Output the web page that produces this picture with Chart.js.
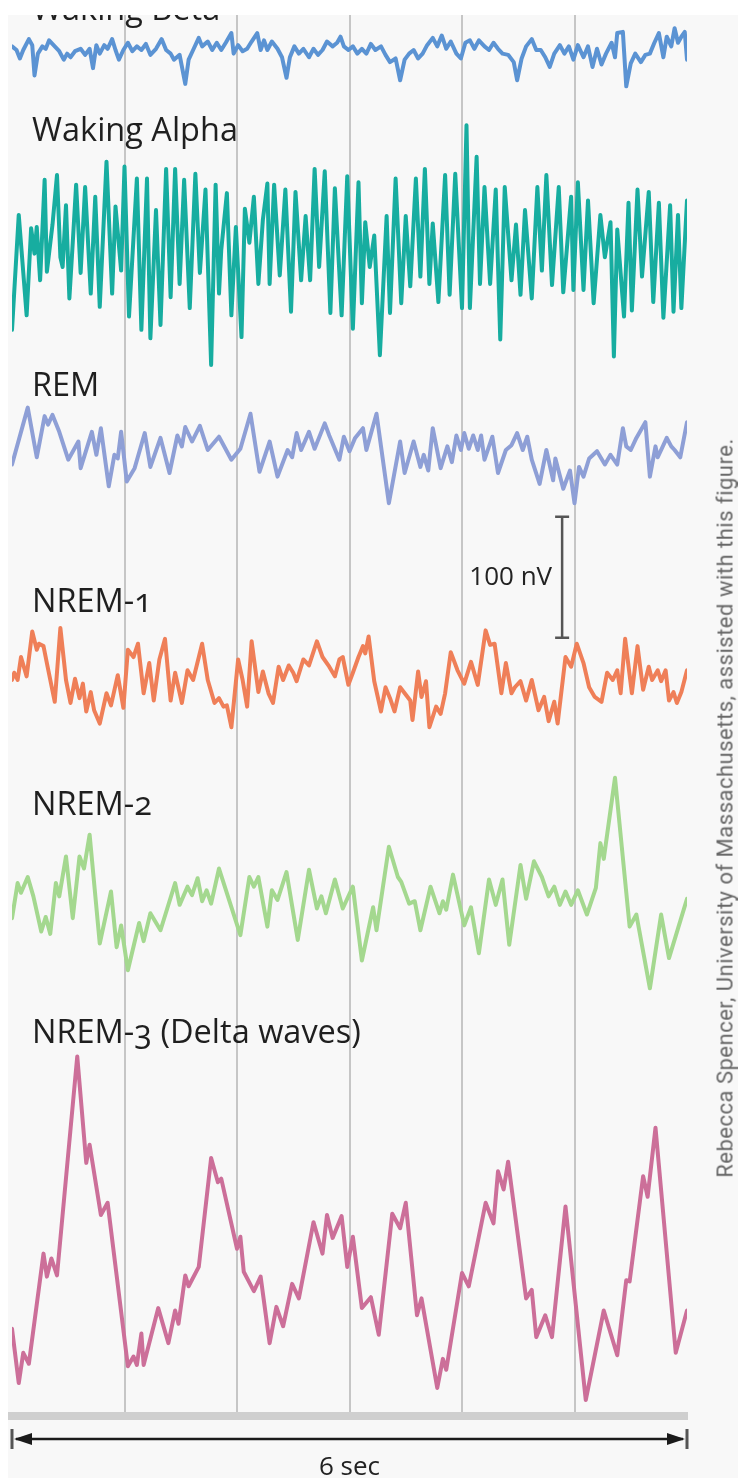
<!DOCTYPE html>
<html lang="en">
<head>
  <meta charset="UTF-8">
  <title>EEG traces by sleep stage</title>
  <script src="https://cdn.jsdelivr.net/npm/chart.js"></script>
  <style>
    html, body { margin: 0; padding: 0; background: #fff; }
    #wrap { position: relative; width: 738px; height: 1478px; overflow: hidden; }
    #panel { position: absolute; left: 8px; top: 15px; right: 0; bottom: 0; background: #f8f8f8; }
    #eeg { position: absolute; left: 0; top: 0; }
    .stage {
      position: absolute; left: 32px;
      font-family: "Open Sans", sans-serif; font-size: 32.5px; line-height: 32.5px;
      color: #1f1f1f; white-space: nowrap;
      font-variant-numeric: oldstyle-nums;
    }
    #topStrip { position: absolute; left: 0; top: 0; width: 738px; height: 15px; background: #fff; }
    #credit {
      position: absolute; left: 725px; top: 808px;
      transform: translate(-50%, -50%) rotate(-90deg);
      font-family: Roboto, sans-serif; font-size: 22px; letter-spacing: 0.5px;
      color: #676767; white-space: nowrap;
    }
  </style>
</head>
<body>
<div id="wrap">
  <div id="panel"></div>
  <canvas id="eeg" width="738" height="1478"></canvas>
  <div id="labels"></div>
  <div id="topStrip"></div>
  <div id="credit">Rebecca Spencer, University of Massachusetts, assisted with this figure.</div>
</div>

<script>
  // traces: [time in s, amplitude in nV]
  const betaWave = [[0.00,3],[0.04,0],[0.07,-7],[0.10,0],[0.15,9],[0.18,4],[0.20,-21],[0.23,-3],[0.27,3],[0.30,1],
    [0.33,8],[0.38,3],[0.42,-1],[0.46,-8],[0.49,-3],[0.52,-6],[0.56,-1],[0.61,1],[0.65,-4],[0.69,1],
    [0.72,-15],[0.75,4],[0.78,-3],[0.82,4],[0.85,1],[0.89,9],[0.92,0],[0.95,-8],[0.99,0],[1.03,6],
    [1.07,-1],[1.11,3],[1.15,0],[1.19,5],[1.23,-4],[1.28,1],[1.33,9],[1.37,0],[1.41,-3],[1.44,-8],
    [1.49,-4],[1.54,-28],[1.57,-8],[1.61,0],[1.66,10],[1.69,3],[1.74,7],[1.78,0],[1.82,6],[1.86,0],
    [1.90,6],[1.95,14],[1.97,-3],[2.01,4],[2.05,-1],[2.09,1],[2.13,7],[2.18,14],[2.21,0],[2.24,8],
    [2.27,0],[2.31,7],[2.36,1],[2.40,-6],[2.44,-23],[2.47,-6],[2.51,3],[2.55,-3],[2.59,1],[2.64,-6],
    [2.68,1],[2.72,-4],[2.76,0],[2.80,7],[2.85,3],[2.89,6],[2.92,11],[2.95,3],[2.99,0],[3.03,3],
    [3.07,-3],[3.11,1],[3.15,-3],[3.19,5],[3.23,0],[3.28,3],[3.32,-4],[3.36,-10],[3.41,-7],[3.45,-25],
    [3.49,-8],[3.53,-3],[3.57,0],[3.61,-7],[3.65,-3],[3.69,4],[3.74,10],[3.78,3],[3.82,12],[3.86,1],
    [3.90,7],[3.95,-3],[3.99,-7],[4.03,6],[4.07,8],[4.11,1],[4.15,8],[4.20,3],[4.24,0],[4.28,6],
    [4.32,1],[4.36,-3],[4.41,-4],[4.46,-10],[4.49,-25],[4.53,-7],[4.57,3],[4.62,9],[4.66,0],[4.70,0],
    [4.74,-6],[4.78,-14],[4.82,-3],[4.87,4],[4.91,-3],[4.95,3],[4.99,-8],[5.03,4],[5.08,-6],[5.12,3],
    [5.16,-14],[5.20,1],[5.24,-12],[5.28,-3],[5.33,6],[5.36,-6],[5.38,14],[5.43,15],[5.46,-30],[5.50,-11],
    [5.54,-3],[5.59,-10],[5.63,-4],[5.67,-3],[5.71,6],[5.75,14],[5.79,-6],[5.82,11],[5.86,3],[5.89,18],
    [5.92,6],[5.95,11],[5.98,15],[6.00,-8]];

  const alphaWave = [[0.00,-66],[0.06,29],[0.13,-54],[0.17,18],[0.20,-3],[0.22,19],[0.25,-25],[0.29,58],[0.31,-18],[0.36,21],
    [0.40,62],[0.43,-6],[0.45,-14],[0.48,37],[0.51,-40],[0.54,6],[0.57,54],[0.61,-19],[0.65,52],[0.70,-36],
    [0.74,44],[0.78,-47],[0.84,73],[0.89,-36],[0.92,36],[0.97,-17],[1.00,69],[1.04,-55],[1.11,59],[1.15,-66],
    [1.20,59],[1.23,-73],[1.28,33],[1.32,-62],[1.37,67],[1.41,-39],[1.45,67],[1.49,-28],[1.53,58],[1.58,-48],
    [1.63,63],[1.67,-19],[1.72,50],[1.77,-95],[1.81,54],[1.84,-36],[1.86,0],[1.91,47],[1.95,-54],[1.99,19],
    [2.04,-72],[2.07,34],[2.11,6],[2.15,44],[2.19,-28],[2.23,25],[2.27,55],[2.29,-28],[2.33,54],[2.38,-21],
    [2.43,50],[2.48,-51],[2.52,48],[2.57,-25],[2.61,28],[2.65,-25],[2.69,67],[2.73,-14],[2.78,65],[2.83,-52],
    [2.87,51],[2.93,-54],[2.98,61],[3.03,-65],[3.08,56],[3.11,-44],[3.14,23],[3.18,-14],[3.22,12],[3.27,-87],
    [3.33,28],[3.36,-52],[3.41,59],[3.46,-44],[3.50,28],[3.54,-30],[3.59,59],[3.63,-22],[3.67,67],[3.71,-28],
    [3.74,22],[3.79,-43],[3.85,62],[3.89,-37],[3.94,63],[4.00,-48],[4.04,103],[4.07,-48],[4.13,77],[4.16,-28],
    [4.20,52],[4.25,-28],[4.30,50],[4.34,-74],[4.38,52],[4.44,-25],[4.48,21],[4.52,-37],[4.56,33],[4.62,-40],
    [4.67,52],[4.71,-17],[4.75,62],[4.80,-29],[4.86,52],[4.90,-35],[4.97,44],[4.99,-33],[5.03,56],[5.08,-33],
    [5.12,41],[5.17,-44],[5.23,29],[5.27,-6],[5.32,23],[5.35,-88],[5.38,17],[5.44,-55],[5.48,39],[5.51,-50],
    [5.56,50],[5.60,-22],[5.66,48],[5.70,-43],[5.75,39],[5.79,-56],[5.85,37],[5.88,-51],[5.92,29],[5.95,-48],
    [6.00,41]];

  const remWave = [[0.00,-12],[0.14,35],[0.22,-6],[0.29,28],[0.32,21],[0.36,29],[0.42,15],[0.50,-8],[0.59,7],[0.61,-15],
    [0.71,15],[0.75,-4],[0.79,18],[0.86,-30],[0.91,-4],[0.94,-7],[0.97,15],[1.02,-26],[1.09,-15],[1.18,14],
    [1.23,-14],[1.32,10],[1.40,-19],[1.47,12],[1.51,3],[1.54,19],[1.60,7],[1.67,20],[1.74,0],[1.84,11],
    [1.95,-8],[2.03,1],[2.12,30],[2.20,-18],[2.29,7],[2.36,-22],[2.45,0],[2.49,-6],[2.53,14],[2.57,0],
    [2.64,15],[2.69,1],[2.78,22],[2.82,12],[2.91,-8],[2.95,11],[3.00,-1],[3.05,10],[3.12,18],[3.15,0],
    [3.24,30],[3.35,-44],[3.45,7],[3.49,-19],[3.57,7],[3.63,-14],[3.66,-4],[3.70,-17],[3.74,18],[3.81,-15],
    [3.87,3],[3.91,-10],[3.95,12],[3.99,0],[4.02,14],[4.06,1],[4.10,12],[4.14,0],[4.17,12],[4.20,-8],
    [4.27,11],[4.32,-19],[4.39,0],[4.44,4],[4.49,14],[4.54,0],[4.58,11],[4.62,-8],[4.69,-28],[4.75,0],
    [4.81,-25],[4.83,-7],[4.90,-32],[4.96,-17],[5.00,-44],[5.04,-14],[5.08,-22],[5.13,-7],[5.20,-1],[5.27,-12],
    [5.32,-4],[5.38,-12],[5.43,18],[5.46,3],[5.50,0],[5.55,10],[5.63,23],[5.67,-22],[5.72,3],[5.74,-6],
    [5.82,10],[5.86,3],[5.89,0],[5.94,-6],[6.00,23]];

  const nrem1Wave = [[0.00,0],[0.02,6],[0.05,0],[0.08,19],[0.13,3],[0.18,40],[0.22,25],[0.24,30],[0.28,28],[0.31,14],
    [0.38,-18],[0.43,43],[0.48,0],[0.52,-19],[0.56,1],[0.60,-15],[0.63,-3],[0.66,-26],[0.70,-10],[0.73,-25],
    [0.78,-36],[0.84,-11],[0.88,-21],[0.94,4],[0.99,-23],[1.03,25],[1.08,19],[1.12,30],[1.17,-11],[1.22,14],
    [1.26,-17],[1.31,17],[1.36,34],[1.41,-17],[1.45,6],[1.51,-19],[1.56,8],[1.61,0],[1.69,30],[1.74,0],
    [1.80,-19],[1.84,-15],[1.88,-22],[1.91,-21],[1.95,-39],[2.01,17],[2.05,0],[2.09,-22],[2.13,32],[2.19,-10],
    [2.23,7],[2.28,-11],[2.32,-19],[2.37,11],[2.41,0],[2.46,12],[2.50,6],[2.53,-1],[2.59,17],[2.64,12],
    [2.71,32],[2.76,19],[2.82,11],[2.87,3],[2.91,17],[2.94,19],[2.99,-4],[3.03,6],[3.08,19],[3.12,28],
    [3.14,22],[3.17,36],[3.22,-1],[3.28,-26],[3.32,-6],[3.36,-15],[3.40,-26],[3.45,-6],[3.54,-17],[3.56,-33],
    [3.61,7],[3.64,-14],[3.68,-1],[3.71,-39],[3.77,-22],[3.81,-28],[3.85,-11],[3.90,23],[3.96,8],[4.02,-3],
    [4.08,15],[4.14,-4],[4.21,41],[4.25,29],[4.29,30],[4.35,-11],[4.39,14],[4.44,-11],[4.47,-6],[4.52,-1],
    [4.57,-17],[4.62,0],[4.68,-25],[4.73,-14],[4.77,-34],[4.82,-18],[4.85,-36],[4.92,19],[4.97,11],[5.02,30],
    [5.08,14],[5.13,-6],[5.18,-14],[5.24,-18],[5.29,6],[5.34,0],[5.38,8],[5.41,-11],[5.45,34],[5.51,-11],
    [5.56,28],[5.61,-8],[5.66,11],[5.69,0],[5.74,8],[5.77,-1],[5.81,8],[5.84,-17],[5.88,-10],[5.91,-19],
    [5.95,-10],[6.00,8]];

  const nrem2Wave = [[0.00,-15],[0.05,14],[0.08,6],[0.14,19],[0.19,3],[0.26,-26],[0.30,-14],[0.34,-28],[0.39,14],[0.42,3],
    [0.48,36],[0.54,-15],[0.60,36],[0.64,26],[0.69,54],[0.78,-36],[0.88,7],[0.93,-39],[0.97,-21],[1.03,-58],
    [1.13,-19],[1.17,-34],[1.23,-11],[1.32,-25],[1.45,14],[1.49,-4],[1.56,11],[1.60,4],[1.65,18],[1.69,-1],
    [1.73,8],[1.77,-3],[1.84,26],[2.03,-29],[2.11,19],[2.15,11],[2.19,19],[2.27,-22],[2.31,8],[2.36,0],
    [2.44,23],[2.54,-33],[2.64,25],[2.71,-7],[2.75,3],[2.79,-11],[2.87,17],[2.94,-7],[3.03,11],[3.11,-50],
    [3.21,-6],[3.24,-25],[3.35,44],[3.43,19],[3.46,15],[3.53,-3],[3.58,-1],[3.63,-25],[3.72,11],[3.80,-11],
    [3.83,-1],[3.86,-8],[3.92,21],[4.02,-21],[4.08,-6],[4.15,-44],[4.24,17],[4.30,-4],[4.36,17],[4.42,-37],
    [4.52,29],[4.57,1],[4.64,32],[4.71,19],[4.77,3],[4.82,11],[4.87,-4],[4.92,7],[4.97,-4],[5.03,8],
    [5.11,-12],[5.19,10],[5.23,47],[5.26,34],[5.36,101],[5.49,-22],[5.55,-12],[5.67,-73],[5.77,-12],[5.84,-48],
    [6.00,1]];

  const nrem3Wave = [[0.00,-65],[0.06,-110],[0.10,-85],[0.15,-94],[0.28,-3],[0.31,-22],[0.35,-7],[0.40,-21],[0.58,160],[0.66,72],
    [0.69,87],[0.79,29],[0.85,39],[1.03,-96],[1.08,-88],[1.11,-95],[1.15,-69],[1.17,-95],[1.30,-48],[1.39,-77],
    [1.45,-50],[1.48,-61],[1.54,-21],[1.57,-30],[1.66,-14],[1.77,76],[1.83,56],[1.86,59],[2.00,1],[2.03,11],
    [2.06,-18],[2.15,-34],[2.21,-22],[2.29,-77],[2.35,-47],[2.41,-63],[2.49,-28],[2.55,-40],[2.68,23],[2.76,-3],
    [2.80,29],[2.85,10],[2.93,28],[2.98,-14],[3.03,11],[3.11,-48],[3.19,-39],[3.26,-70],[3.38,30],[3.45,18],
    [3.50,39],[3.60,-54],[3.64,-40],[3.78,-114],[3.83,-90],[3.86,-99],[4.00,-19],[4.06,-30],[4.21,39],[4.28,22],
    [4.32,65],[4.37,50],[4.41,73],[4.57,-40],[4.62,-33],[4.66,-72],[4.74,-54],[4.80,-72],[4.92,36],[5.10,-124],
    [5.26,-50],[5.38,-87],[5.46,-25],[5.49,-26],[5.61,61],[5.65,44],[5.72,101],[5.90,-85],[6.00,-50]];

  const stageNames = ['Waking Beta', 'Waking Alpha', 'REM', 'NREM-1', 'NREM-2', 'NREM-3 (Delta waves)'];
  const stageWaves = [betaWave, alphaWave, remWave, nrem1Wave, nrem2Wave, nrem3Wave];
  const stageColors = ['#5b93d3', '#17ada0', '#8e9fd6', '#ef7f58', '#a4d88f', '#cc6f99'];
  const epochSeconds = 6;

  // layout (px): where each trace's zero line sits, and each name's baseline
  const area = { left: 12, right: 687, top: 15, bottom: 1416 };
  const zeroLine = [50, 250, 450, 680, 900, 1250];
  const labelBaseline = [21, 142, 397, 613, 816, 1044];
  const pxPerNv = 1.21;

  // names
  const labelBox = document.getElementById('labels');
  stageNames.forEach((name, i) => {
    const d = document.createElement('div');
    d.className = 'stage';
    d.textContent = name;
    d.style.top = (labelBaseline[i] - 29) + 'px';
    labelBox.appendChild(d);
  });

  const scales = {
    x: {
      type: 'linear', min: 0, max: epochSeconds,
      ticks: { display: false, stepSize: 1 },
      grid: {
        drawTicks: false, lineWidth: 2,
        color: c => (c.tick && (c.tick.value === 0 || c.tick.value === epochSeconds)) ? 'rgba(0,0,0,0)' : '#c6c6c6'
      },
      border: { display: true, color: '#cfcfcf', width: 8 }
    }
  };
  zeroLine.forEach((z, i) => {
    scales['y' + i] = {
      type: 'linear', display: false,
      max: (z - area.top) / pxPerNv,
      min: -(area.bottom - z) / pxPerNv
    };
  });

  const extras = {
    id: 'extras',
    afterDraw(chart) {
      const ctx = chart.ctx;
      const x = chart.scales.x;
      const y1 = chart.scales.y3;
      ctx.save();

      // 100 nV scale bar
      const bx = x.getPixelForValue(4.89);
      const bTop = y1.getPixelForValue(135), bBot = y1.getPixelForValue(35);
      ctx.strokeStyle = '#555';
      ctx.lineWidth = 2.5;
      ctx.beginPath();
      ctx.moveTo(bx, bTop); ctx.lineTo(bx, bBot);
      ctx.moveTo(bx - 7, bTop); ctx.lineTo(bx + 7, bTop);
      ctx.moveTo(bx - 7, bBot); ctx.lineTo(bx + 7, bBot);
      ctx.stroke();
      ctx.fillStyle = '#222';
      ctx.font = '26px "Open Sans"';
      ctx.textAlign = 'right';
      ctx.textBaseline = 'middle';
      ctx.fillText('100 nV', bx - 10, (bTop + bBot) / 2);

      // 6 sec arrow
      const ay = chart.chartArea.bottom + 23;
      const x0 = x.getPixelForValue(0), x6 = x.getPixelForValue(epochSeconds);
      ctx.strokeStyle = '#555';
      ctx.lineWidth = 3;
      ctx.beginPath();
      ctx.moveTo(x0, ay - 10); ctx.lineTo(x0, ay + 10);
      ctx.moveTo(x6, ay - 10); ctx.lineTo(x6, ay + 10);
      ctx.stroke();
      ctx.strokeStyle = '#1b1b1b';
      ctx.lineWidth = 2.5;
      ctx.beginPath();
      ctx.moveTo(x0 + 4, ay); ctx.lineTo(x6 - 4, ay);
      ctx.stroke();
      ctx.fillStyle = '#1b1b1b';
      ctx.beginPath();
      ctx.moveTo(x0 + 2, ay); ctx.lineTo(x0 + 20, ay - 6); ctx.lineTo(x0 + 20, ay + 6); ctx.closePath();
      ctx.moveTo(x6 - 2, ay); ctx.lineTo(x6 - 20, ay - 6); ctx.lineTo(x6 - 20, ay + 6); ctx.closePath();
      ctx.fill();

      ctx.fillStyle = '#222';
      ctx.textAlign = 'center';
      ctx.textBaseline = 'alphabetic';
      ctx.fillText('6 sec', x.getPixelForValue(epochSeconds / 2), ay + 36);
      ctx.restore();
    }
  };

  new Chart(document.getElementById('eeg'), {
    type: 'line',
    data: {
      datasets: stageWaves.map((w, i) => ({
        label: stageNames[i],
        data: w,
        yAxisID: 'y' + i,
        borderColor: stageColors[i],
        borderWidth: 4,
        borderJoinStyle: 'round',
        borderCapStyle: 'round',
        pointRadius: 0,
        tension: 0,
        fill: false
      }))
    },
    options: {
      responsive: false,
      animation: false,
      layout: { padding: { left: area.left, right: 738 - area.right, top: area.top, bottom: 1478 - area.bottom } },
      plugins: { legend: { display: false }, tooltip: { enabled: false } },
      scales: scales
    },
    plugins: [extras]
  });
</script>
</body>
</html>
